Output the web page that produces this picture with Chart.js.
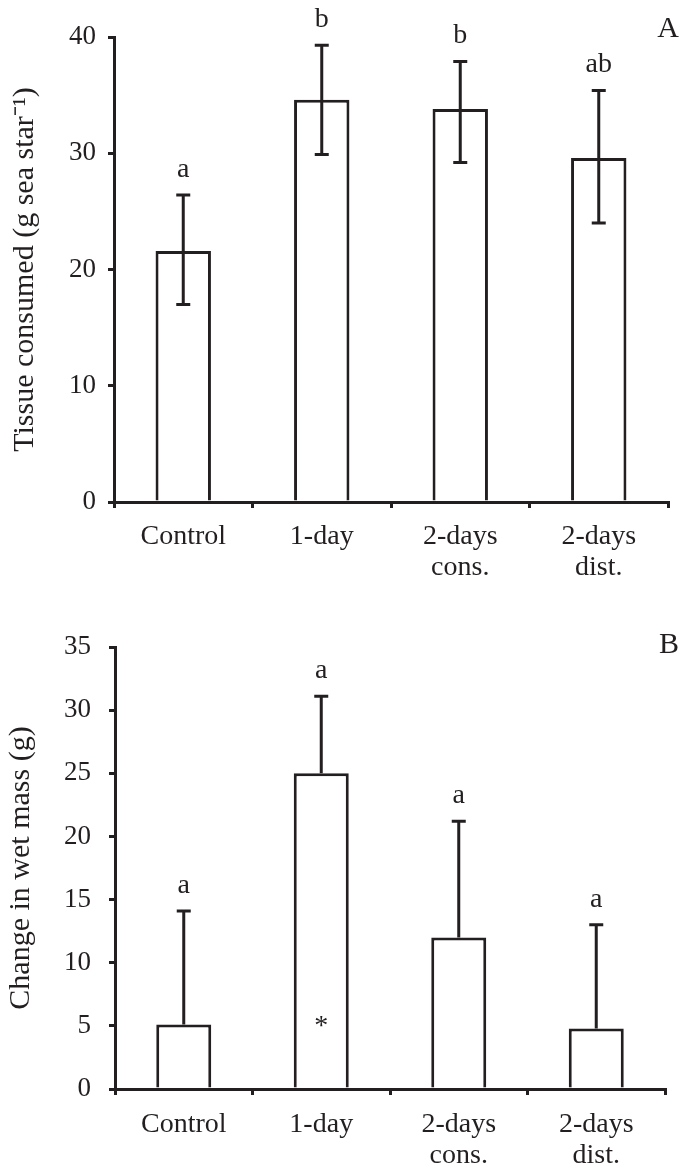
<!DOCTYPE html>
<html lang="en">
  <head>
    <meta charset="utf-8">
    <title>Tissue consumed / change in wet mass</title>
    <script src="https://cdn.jsdelivr.net/npm/chart.js@4.4.0/dist/chart.umd.min.js"></script>
    <style>
      body { margin: 0; background: #fff; }
      #wrap { position: relative; width: 681px; height: 1170px; }
      #boxA { position: absolute; left: 0; top: 0; }
      #boxB { position: absolute; left: 0; top: 580px; }
    </style>
  </head>
  <body>
    <div id="wrap">
      <div id="boxA"><canvas id="chartA" width="681" height="580"></canvas></div>
      <div id="boxB"><canvas id="chartB" width="681" height="590"></canvas></div>
    </div>

    <script type="text/javascript">
        var groups = [['Control'], ['1-day'], ['2-days', 'cons.'], ['2-days', 'dist.']];

        // panel A : tissue consumed (mean, error bar ends)
        var tissueMean = [21.6, 34.6, 33.8, 29.6];
        var tissueLow = [17.0, 29.9, 29.2, 24.0];
        var tissueHigh = [26.4, 39.3, 37.9, 35.4];
        var tissueLetters = ['a', 'b', 'b', 'ab'];
        var tissueTicks = [0, 10, 20, 30, 40];

        // panel B : change in wet mass (only upper error bar)
        var massMean = [5.1, 25.0, 12.0, 4.8];
        var massHigh = [14.1, 31.1, 21.2, 13.0];
        var massLetters = ['a', 'a', 'a', 'a'];
        var massStar = [null, 5.4, null, null];
        var massTicks = [0, 5, 10, 15, 20, 25, 30, 35];

        var ink = '#231f20';
        var serif = "'Liberation Serif', 'Times New Roman', serif";

        // error bars, letters and panel tag drawn from the scales
        var extras = {
            id: 'extras',
            afterDatasetsDraw: function (chart, args, opts) {
                var ctx = chart.ctx;
                var x = chart.scales.x;
                var y = chart.scales.y;
                ctx.save();
                ctx.strokeStyle = ink;
                ctx.fillStyle = ink;
                ctx.lineWidth = 3;
                for (var i = 0; i < opts.high.length; i++) {
                    var px = x.getPixelForValue(i);
                    var top = y.getPixelForValue(opts.high[i]);
                    var bot = y.getPixelForValue(opts.low ? opts.low[i] : opts.mean[i]);
                    ctx.beginPath();
                    ctx.moveTo(px, bot);
                    ctx.lineTo(px, top);
                    ctx.moveTo(px - 7, top);
                    ctx.lineTo(px + 7, top);
                    if (opts.low) {
                        ctx.moveTo(px - 7, bot);
                        ctx.lineTo(px + 7, bot);
                    }
                    ctx.stroke();

                    ctx.font = '28px ' + serif;
                    ctx.textAlign = 'center';
                    ctx.textBaseline = 'alphabetic';
                    ctx.fillText(opts.letters[i], px, top - 18);

                    if (opts.star && opts.star[i] != null) {
                        ctx.textBaseline = 'middle';
                        ctx.fillText('*', px, y.getPixelForValue(opts.star[i]) + 6);
                    }
                }
                ctx.font = '30px ' + serif;
                ctx.textAlign = 'right';
                ctx.textBaseline = 'alphabetic';
                ctx.fillText(opts.tag, 679, opts.tagY);
                ctx.restore();
            }
        };

        function makeChart(id, mean, ticks, title, box, extra) {
            var ctx = document.getElementById(id).getContext('2d');
            return new Chart(ctx, {
                type: 'bar',
                data: {
                    labels: groups,
                    datasets: [{
                        data: mean,
                        backgroundColor: '#ffffff',
                        borderColor: ink,
                        borderWidth: 3,
                        barPercentage: 0.4,
                        categoryPercentage: 1.0
                    }]
                },
                options: {
                    responsive: false,
                    animation: false,
                    layout: { padding: { left: 0, right: box.right, top: box.top, bottom: 0 } },
                    plugins: {
                        legend: { display: false },
                        tooltip: { enabled: false },
                        extras: extra
                    },
                    scales: {
                        x: {
                            grid: { display: true, drawOnChartArea: false, drawTicks: true, tickLength: 6, color: ink, lineWidth: 3, offset: true },
                            border: { display: true, color: ink, width: 3 },
                            ticks: { color: ink, padding: box.xPad, font: { family: serif, size: 28, lineHeight: 1.1 }, maxRotation: 0 },
                            afterFit: function (scale) { scale.height = box.xh; }
                        },
                        y: {
                            min: ticks[0],
                            max: ticks[ticks.length - 1],
                            afterBuildTicks: function (scale) {
                                scale.ticks = ticks.map(function (v) { return { value: v }; });
                            },
                            grid: { display: true, drawOnChartArea: false, drawTicks: true, tickLength: 6, color: ink, lineWidth: 3 },
                            border: { display: true, color: ink, width: 3 },
                            ticks: { color: ink, padding: box.tickPad, font: { family: serif, size: 27 } },
                            title: {
                                display: true,
                                text: title,
                                color: ink,
                                font: { family: serif, size: 30 },
                                padding: { top: box.titlePad, bottom: 0 }
                            },
                            afterFit: function (scale) { scale.width = box.left; }
                        }
                    }
                },
                plugins: [extras]
            });
        }

        makeChart('chartA', tissueMean, tissueTicks, 'Tissue consumed (g sea star\u207B\u00B9)',
            { left: 114, right: 13, top: 37, xh: 78, xPad: 13, tickPad: 12, titlePad: 7 },
            { mean: tissueMean, low: tissueLow, high: tissueHigh, letters: tissueLetters, tag: 'A', tagY: 37 });

        makeChart('chartB', massMean, massTicks, 'Change in wet mass (g)',
            { left: 115, right: 16, top: 67, xh: 81, xPad: 14, tickPad: 18, titlePad: 3 },
            { mean: massMean, low: null, high: massHigh, letters: massLetters, star: massStar, tag: 'B', tagY: 73 });
    </script>
  </body>
</html>
